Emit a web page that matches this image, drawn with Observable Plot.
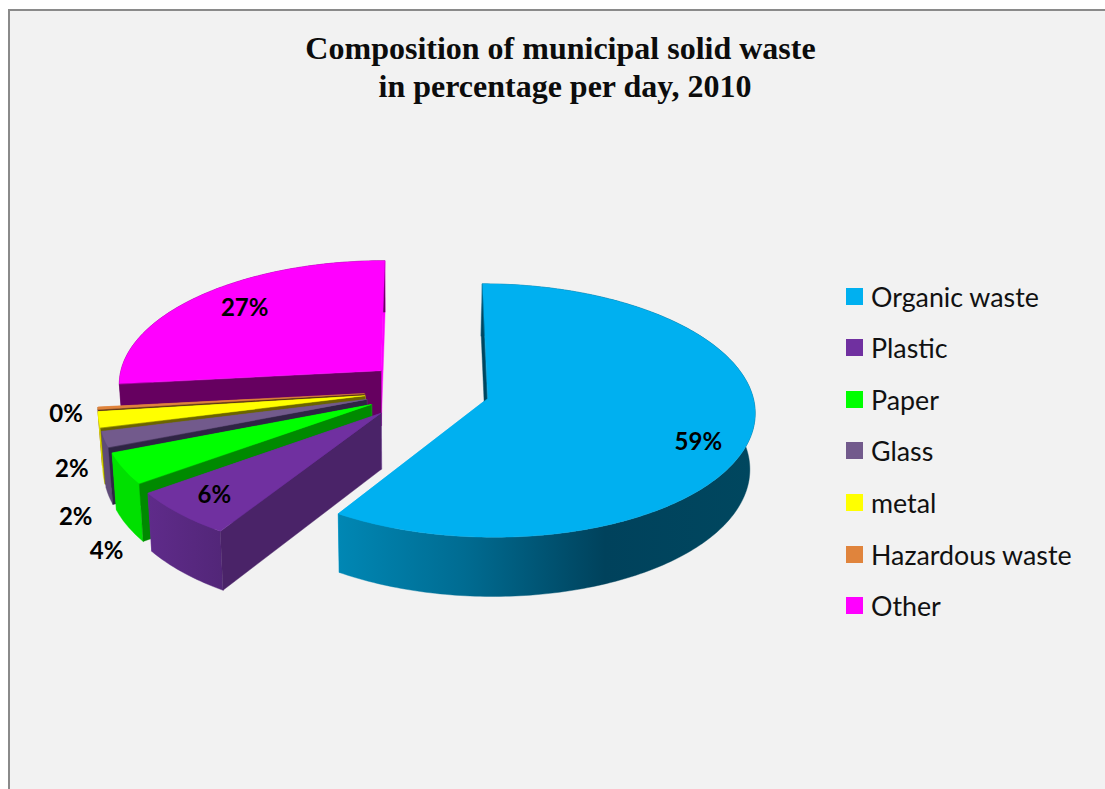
<!DOCTYPE html>
<html>
<head>
<meta charset="utf-8">
<script src="https://cdn.jsdelivr.net/npm/d3@7"></script>
<script src="https://cdn.jsdelivr.net/npm/@observablehq/plot@0.6"></script>
<style>
  html, body { margin: 0; padding: 0; background: #fff; }
  #page { position: relative; width: 1105px; height: 789px; overflow: hidden; }
  #panel { position: absolute; left: 8px; top: 9px; right: 0; bottom: 0; background: #f2f2f2;
           border-left: 2px solid #8a8a8a; border-top: 2px solid #8a8a8a; }
  #page svg { position: absolute; left: 0; top: 0; background: transparent; }
  .title { position: absolute; white-space: nowrap; transform: translateX(-50%); color: #0c0c0c;
           font: bold 32px "Liberation Serif", serif; line-height: 36px; }
  .swatch { position: absolute; left: 846px; width: 17px; height: 17px; }
  .entry { position: absolute; left: 871px; white-space: nowrap; color: #111;
           font: 26.8px Lato, sans-serif; line-height: 30px; }
</style>
</head>
<body>
<div id="page"><div id="panel"></div></div>
<script>
// Daily municipal solid waste shares, in percent
const categories = ["Organic waste", "Plastic", "Paper", "Glass", "metal", "Hazardous waste", "Other"];
const shares = [59, 6, 4, 2, 2, 0.3, 26.7];

// Top face, cut face and outer wall colours for each category
const topColors = ["#00b0f0", "#7030a0", "#00ff00", "#725a8c", "#ffff00", "#e0843c", "#ff00ff"];
const cutColors = ["#00465f", "#4a2368", "#008a00", "#2f2444", "#6b6400", "#5a3418", "#660060"];
const wallColors = ["url(#organic-wall)", "url(#plastic-wall)", "#00e000", "#5f4b78", "#d8d800", "#a0602c", "#660060"];

// How far each slice is pulled out of the pie
const explodeBy = [0.238, 0.25, 0.238, 0.238, 0.238, 0.238, 0.238];

// Label placement around each slice: bearing in degrees and radius from the slice apex
const labelBearings = [114, 224, 220, 229, 242, 262, 314.3];
const labelRadii = [0.83, 0.83, 1.36, 1.31, 1.175, 1.12, 0.785];

// Paint order, back to front
const paintOrder = [6, 5, 4, 3, 2, 1, 0];

// Tilted-disc projection parameters
const perspective = 0.0945;
const lowerScale = 0.985;
const lowerPivot = -0.103;

const total = d3.sum(shares);
const edges = d3.cumsum(shares).map(v => v / total * 360);
const rad = d => d * Math.PI / 180;

function project(gx, gy, lower) {
  const w = 1 + perspective * gy;
  let x = gx / w, y = gy / w;
  if (lower) {
    x = lowerPivot + (x - lowerPivot) * lowerScale;
    y -= 0.4476 - 0.0282 * gy;
  }
  return [x, y];
}

const slices = categories.map((name, i) => {
  const start = i ? edges[i - 1] : 0, end = edges[i], mid = (start + end) / 2;
  const ox = explodeBy[i] * Math.sin(rad(mid)), oy = explodeBy[i] * Math.cos(rad(mid));
  const point = (bearing, r, lower) =>
    project(ox + r * Math.sin(rad(bearing)), oy + r * Math.cos(rad(bearing)), lower);
  const steps = Math.max(2, Math.ceil(end - start));
  const rim = d3.range(steps + 1).map(k => {
    const b = start + (end - start) * k / steps;
    const [x, y] = point(b, 1, false), [xl, yl] = point(b, 1, true);
    return {x, y, xl, yl};
  });
  const apex = project(ox, oy, false), apexLow = project(ox, oy, true);
  const apexRow = {x: apex[0], y: apex[1], xl: apexLow[0], yl: apexLow[1]};
  const [lx, ly] = point(labelBearings[i], labelRadii[i], false);
  return {
    name, i, rim, apex,
    startCut: [apexRow, rim[0]],
    endCut: [apexRow, rim[rim.length - 1]],
    lx, ly, label: Math.round(shares[i]) + "%"
  };
});

// Horizontal shading for the two visibly lit outer walls
const gradient = (id, stops) => () => {
  const defs = d3.create("svg:defs");
  const g = defs.append("linearGradient").attr("id", id);
  stops.forEach(([o, c]) => g.append("stop").attr("offset", o).attr("stop-color", c));
  return defs.node();
};

const ribbon = (rows, color) =>
  Plot.area(rows, {x1: "x", y1: "y", x2: "xl", y2: "yl", fill: color, stroke: color, strokeWidth: 0.4});

// Each slice: far cut face, outer wall, near cut face, then the top
const sliceMarks = paintOrder.flatMap(i => {
  const s = slices[i];
  return [
    ribbon(s.endCut, topColors[i]),
    ribbon(s.rim, wallColors[i]),
    ribbon(s.startCut, cutColors[i]),
    Plot.area(s.rim, {x1: () => s.apex[0], y1: () => s.apex[1], x2: "x", y2: "y", fill: topColors[i], stroke: topColors[i], strokeWidth: 0.4})
  ];
});

const chart = Plot.plot({
  width: 1105,
  height: 789,
  margin: 0,
  axis: null,
  x: {domain: [-1, 1], range: [427 - 264, 427 + 264]},
  y: {domain: [-1, 1], range: [390.2 + 124, 390.2 - 124]},
  marks: [
    gradient("organic-wall", [[0, "#0087b4"], [0.3, "#006c92"], [0.64, "#00425c"], [1, "#00475f"]]),
    gradient("plastic-wall", [[0, "#5f2b8a"], [1, "#522678"]]),
    ...sliceMarks,
    Plot.text(slices, {
      x: "lx", y: "ly", text: "label",
      fontFamily: "Lato, sans-serif", fontWeight: "bold", fontSize: 24, fill: "#000"
    })
  ]
});

const page = document.getElementById("page");
page.appendChild(chart);

// Two-line heading
[["Composition of municipal solid waste", 560.5, 30], ["in percentage per day, 2010", 565, 68]].forEach(([t, cx, top]) => {
  const el = document.createElement("div");
  el.className = "title";
  el.textContent = t;
  el.style.left = cx + "px";
  el.style.top = top + "px";
  page.appendChild(el);
});

// Legend column
categories.forEach((name, i) => {
  const mid = 296.3 + i * 51.55;
  const sw = document.createElement("div");
  sw.className = "swatch";
  sw.style.top = (mid - 8.5) + "px";
  sw.style.background = topColors[i];
  page.appendChild(sw);
  const en = document.createElement("div");
  en.className = "entry";
  en.textContent = name;
  en.style.top = (mid - 14.5) + "px";
  page.appendChild(en);
});
</script>
</body>
</html>
